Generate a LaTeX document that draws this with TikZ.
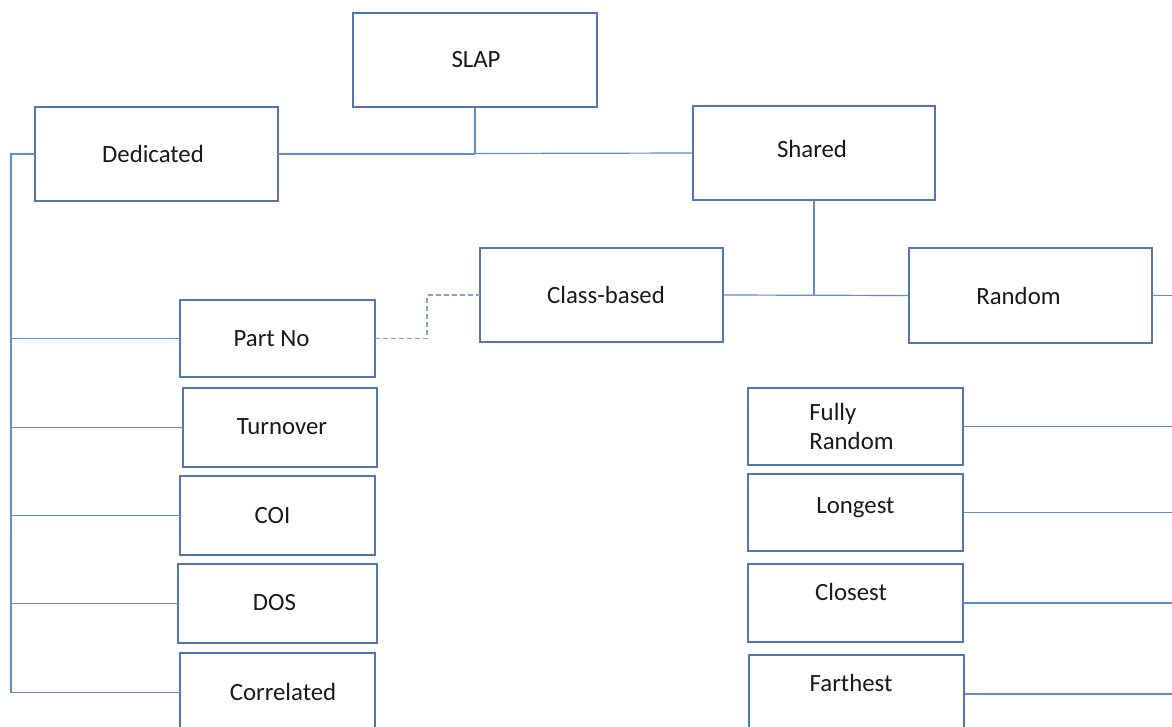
\documentclass[tikz,border=0pt]{standalone}
\usepackage{fontspec}
\setmainfont{Carlito}
\definecolor{boxline}{RGB}{84,116,178}
\definecolor{wire}{RGB}{98,138,206}
\definecolor{wirelight}{RGB}{128,160,218}
\tikzset{
  boxfont/.style={font=\fontsize{24.8}{29.5}\selectfont, text=black!90},
  box/.style={draw=boxline, line width=1.1pt, fill=white, inner sep=0pt,
    outer sep=0pt, boxfont},
  wire/.style={draw=wire, line width=1.2pt},
  dashwire/.style={draw=wirelight, line width=1.2pt, dash pattern=on 5pt off 3pt},
}
\begin{document}
\begin{tikzpicture}[x=1pt,y=-1pt]
\useasboundingbox (0,0) rectangle (1172,726);
\clip (0,0) rectangle (1172,726);

% top levels
\node[box, minimum width=244, minimum height=94] (slap) at (475,60) {\kern2pt SLAP};
\node[box, minimum width=243, minimum height=94] (ded) at (156.5,154) {Dedicated\kern7pt};
\node[box, minimum width=242, minimum height=94] (shr) at (814,153) {\raisebox{9pt}{Shared}\kern4pt};
\node[box, minimum width=243, minimum height=94] (cls) at (601.5,295) {\kern9pt Class-based};
\node[box, minimum width=243, minimum height=95] (rnd) at (1030.5,295.5) {Random\kern24pt};

% dedicated children
\node[box, minimum width=195, minimum height=77] (pn)  at (277.5,338.5) {Part No\kern12pt};
\node[box, minimum width=194, minimum height=79] (tov) at (280,427.5) {\kern4pt\raisebox{2pt}{Turnover}};
\node[box, minimum width=195, minimum height=79] (coi) at (277.5,515.5) {COI\kern10pt};
\node[box, minimum width=199, minimum height=79] (dos) at (277.5,603.5) {\raisebox{3pt}{DOS}\kern6pt};
\node[box, minimum width=195, minimum height=79] (cor) at (277.5,692.5) {\kern11pt\raisebox{1pt}{Correlated}};

% random children
\node[box, minimum width=215, minimum height=77, align=left] (fr) at (855.5,426.5) {Fully\\Random\kern8pt};
\node[box, minimum width=215, minimum height=77] (lng) at (855.5,512.5) {\raisebox{14pt}{Longest}};
\node[box, minimum width=215, minimum height=78] (cls2) at (855.5,603) {\raisebox{22pt}{Closest}\kern9pt};
\node[box, minimum width=215, minimum height=78] (far) at (856.5,694) {\raisebox{22pt}{Farthest}\kern11pt};

% connectors: top level
\coordinate (tj) at (475,153.5);
\draw[wire] (slap.south) -- (tj);
\draw[wire] (ded.east) -- (tj |- ded.east);
\draw[wire] (tj) -- (shr.west);

% left bus
\coordinate (lb) at (11,0);
\draw[wire] (ded.west) -- (ded.west -| lb) -- (lb |- cor.west);
\foreach \n in {pn,tov,coi,dos,cor}
  \draw[wire] (lb |- \n.west) -- (\n.west);

% shared branch
\draw[wire] (shr.south) -- (shr.south |- cls.east);
\draw[wire] (cls.east) -- (rnd.west);
\coordinate (rb) at (1180,0);
\draw[wire] (rnd.east) -- (rnd.east -| rb);
\foreach \n in {fr,lng,cls2,far}
  \draw[wire] (\n.east) -- (\n.east -| rb);

% dashed link between part number and class-based
\draw[dashwire] (pn.east) -- ++(52,0) |- (cls.west);
\end{tikzpicture}
\end{document}
